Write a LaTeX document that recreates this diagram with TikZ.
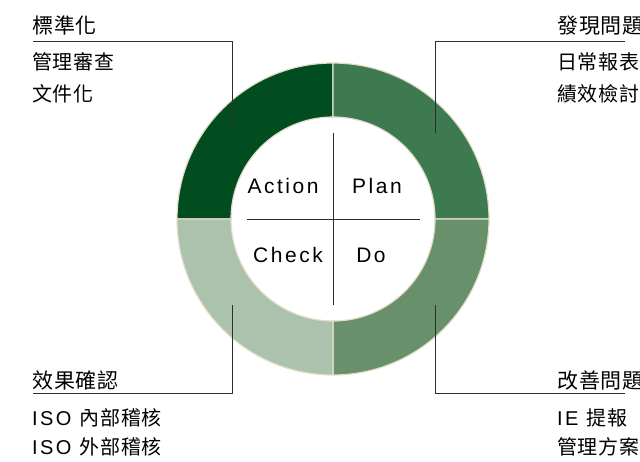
\documentclass[tikz,border=0pt]{standalone}
\usepackage{fontspec}
\setmainfont{Liberation Sans}[LetterSpace=12]
\newfontfamily\cjk{Noto Sans CJK TC}[LetterSpace=4]
\usetikzlibrary{positioning}
\definecolor{verdeA}{HTML}{024D20}
\definecolor{verdeP}{HTML}{3E7A4F}
\definecolor{verdeD}{HTML}{68916B}
\definecolor{verdeC}{HTML}{ABC2AD}
\definecolor{bordo}{HTML}{E4DDCB}
\definecolor{linea}{HTML}{2E2E2E}
\tikzset{settore/.style={draw=bordo, line width=1.2pt}}
\tikzset{guida/.style={draw=linea, line width=1pt}}
\tikzset{titolo/.style={anchor=base west, inner sep=0pt, font=\fontsize{21}{21}\selectfont\cjk}}
\tikzset{voce/.style={anchor=base west, inner sep=0pt, font=\fontsize{20}{20}\selectfont}}
\tikzset{fase/.style={anchor=base, inner sep=0pt, font=\fontsize{21}{21}\selectfont}}
\newcommand{\anello}[3]{\filldraw[settore, fill=#3] (#1:156) arc[start angle=#1, end angle=#2, radius=156]
  -- (#2:102) arc[start angle=#2, end angle=#1, radius=102] -- cycle;}

\begin{document}
\begin{tikzpicture}[x=1pt, y=-1pt]
    \useasboundingbox (0,0) rectangle (640,461);

    % anello PDCA
    \begin{scope}[shift={(333,219)}]
        \anello{180}{270}{verdeA}
        \anello{270}{360}{verdeP}
        \anello{0}{90}{verdeD}
        \anello{90}{180}{verdeC}
    \end{scope}

    \coordinate (n) at (333,133);
    \coordinate (s) at (333,305);
    \coordinate (o) at (247,219);
    \coordinate (e) at (420,219);
    \draw[guida] (n) -- (s);
    \draw[guida] (o) -- (e);

    \node[fase] (act) at (283,193) {Action};
    \node[fase] (plan) at (377,193) {Plan};
    \node[fase] (check) at (288,262) {Check};
    \node[fase] (do) at (371,262) {Do};

    % testi
    \node[titolo] (tA) at (32,33) {標準化};
    \node[voce, below=36pt of tA.base west, anchor=base west] (a1) {\cjk 管理審查};
    \node[voce, below=32pt of a1.base west, anchor=base west] (a2) {\cjk 文件化};

    \node[titolo] (tP) at (557,33) {發現問題};
    \node[voce, below=36pt of tP.base west, anchor=base west] (p1) {\cjk 日常報表};
    \node[voce, below=32pt of p1.base west, anchor=base west] (p2) {\cjk 績效檢討};

    \node[titolo] (tC) at (32,388) {效果確認};
    \node[voce, below=37pt of tC.base west, anchor=base west] (c1) {ISO {\cjk 內部稽核}};
    \node[voce, below=29pt of c1.base west, anchor=base west] (c2) {ISO {\cjk 外部稽核}};

    \node[titolo] (tD) at (557,388) {改善問題};
    \node[voce, below=37pt of tD.base west, anchor=base west] (d1) {IE {\cjk 提報}};
    \node[voce, below=29pt of d1.base west, anchor=base west] (d2) {\cjk 管理方案};

    % linee guida
    \coordinate (gA) at (33,41);
    \coordinate (pA) at (232,133);
    \coordinate (gP) at (625,41);
    \coordinate (pP) at (435,133);
    \coordinate (gC) at (33,393);
    \coordinate (pC) at (232,305);
    \coordinate (gD) at (625,393);
    \coordinate (pD) at (435,305);
    \draw[guida] (gA) -| (pA);
    \draw[guida] (gP) -| (pP);
    \draw[guida] (gC) -| (pC);
    \draw[guida] (gD) -| (pD);
\end{tikzpicture}
\end{document}
